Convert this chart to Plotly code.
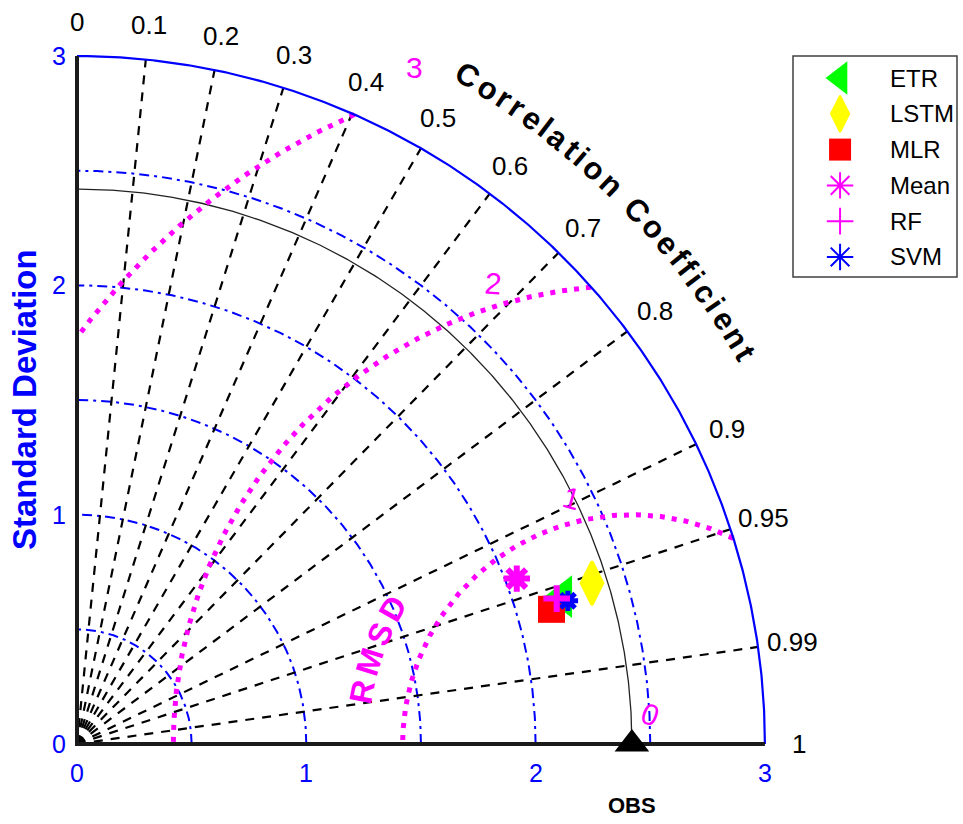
import numpy as np
import plotly.graph_objects as go

# ---------------- data ----------------
models = ["ETR", "LSTM", "MLR", "Mean", "SVM", "RF"]
std_dev = [2.214, 2.353, 2.151, 2.049, 2.230, 2.186]
corr_coef = [0.957, 0.9545, 0.962, 0.936, 0.960, 0.957]
legend_order = ["ETR", "LSTM", "MLR", "Mean", "RF", "SVM"]
obs_std = 2.42

std_max = 3.0
std_ticks = [0, 1, 2, 3]
std_circles = [0.5, 1.0, 1.5, 2.0, 2.5]
corr_lines = [0.1, 0.2, 0.3, 0.4, 0.5, 0.6, 0.7, 0.8, 0.9, 0.95, 0.99]
corr_labels = [0, 0.1, 0.2, 0.3, 0.4, 0.5, 0.6, 0.7, 0.8, 0.9, 0.95, 0.99, 1]
rmsd_levels = [1, 2, 3]
rmsd_labels = [0, 1, 2, 3]
rmsd_label_angles = [20, 15, 5, 0]

# ---------------- geometry / styles ----------------
W, H = 963, 824
PX = 229.3            # pixels per unit of standard deviation
OX, OY = 77, 744      # pixel position of the origin
FONT = "Arial, Liberation Sans, sans-serif"
BLUE, MAGENTA = "#0000FF", "#FF00FF"

marker_styles = {
    "ETR": dict(symbol="triangle-left", size=37, color="#00FF00"),
    "LSTM": dict(symbol="diamond-tall", size=31, color="#FFFF00",
                 line=dict(color="#FFFF00", width=3)),
    "MLR": dict(symbol="square", size=27, color="#FF0000"),
    "Mean": dict(symbol="asterisk-open", size=22, color=MAGENTA,
                 line=dict(color=MAGENTA, width=6)),
    "RF": dict(symbol="cross-thin-open", size=19, color=MAGENTA,
               line=dict(color=MAGENTA, width=6)),
    "SVM": dict(symbol="asterisk-open", size=17, color=BLUE,
                line=dict(color=BLUE, width=5)),
}
legend_styles = {
    "ETR": dict(symbol="triangle-left", size=29, color="#00FF00"),
    "LSTM": dict(symbol="diamond-tall", size=26, color="#FFFF00",
                 line=dict(color="#FFFF00", width=2)),
    "MLR": dict(symbol="square", size=22, color="#FF0000"),
    "Mean": dict(symbol="asterisk-open", size=22, color=MAGENTA,
                 line=dict(color=MAGENTA, width=2)),
    "RF": dict(symbol="cross-thin-open", size=19, color=MAGENTA,
               line=dict(color=MAGENTA, width=2)),
    "SVM": dict(symbol="asterisk-open", size=22, color=BLUE,
                line=dict(color=BLUE, width=2)),
}

fig = go.Figure()


def add_line(x, y, color, width, dash="solid"):
    fig.add_trace(go.Scatter(x=x, y=y, mode="lines", hoverinfo="skip",
                             showlegend=False,
                             line=dict(color=color, width=width, dash=dash)))


def quarter_arc(r, n=400):
    t = np.linspace(0, np.pi / 2, n)
    return r * np.cos(t), r * np.sin(t)


# standard-deviation circles (dash-dot)
for r in std_circles:
    x, y = quarter_arc(r)
    add_line(x, y, BLUE, 2, "10px,5px,3px,5px")

# reference standard deviation arc
x, y = quarter_arc(obs_std)
add_line(x, y, "#222222", 1.3)

# correlation rays
for c in corr_lines:
    a = np.arccos(c)
    add_line([0, std_max * np.cos(a)], [0, std_max * np.sin(a)],
             "black", 2.2, "9px,8px")

# centred RMS difference arcs around the observation point
for r in rmsd_levels:
    phi = np.linspace(0, np.pi, 3000)
    x = obs_std + r * np.cos(phi)
    y = r * np.sin(phi)
    keep = (x >= 0) & (x ** 2 + y ** 2 <= std_max ** 2)
    add_line(x[keep], y[keep], MAGENTA, 5, "5px,7px")

# outer boundary
x, y = quarter_arc(std_max)
add_line(x, y, BLUE, 2.2)

# axes frame
add_line([0, 0, std_max], [std_max, 0, 0], "#1a1a1a", 4)

# observation marker
fig.add_trace(go.Scatter(x=[obs_std], y=[0], mode="markers", showlegend=False,
                         hoverinfo="skip", cliponaxis=False,
                         marker=dict(symbol="triangle-up", size=30, color="black")))

# model points
for name, s, c in zip(models, std_dev, corr_coef):
    a = np.arccos(c)
    fig.add_trace(go.Scatter(x=[s * np.cos(a)], y=[s * np.sin(a)], mode="markers",
                             name=name, showlegend=False, cliponaxis=False,
                             marker=marker_styles[name]))

annotations = []


def text(x, y, s, size, color="black", bold=False, angle=0, xanchor="center",
         xref="x", yref="y"):
    if bold:
        s = "<b>" + s + "</b>"
    annotations.append(dict(x=x, y=y, xref=xref, yref=yref, text=s,
                            showarrow=False, textangle=angle,
                            xanchor=xanchor, yanchor="middle",
                            font=dict(family=FONT, size=size, color=color)))


# axis tick labels
for t in std_ticks:
    text(-0.08, t, str(t), 25, BLUE)
    text(t, -0.125, str(t), 25, BLUE)

# correlation labels
for c in corr_labels:
    a = np.arccos(c)
    lab = "0" if c == 0 else ("1" if c == 1 else f"{c:g}")
    text(3.15 * np.cos(a), 3.15 * np.sin(a), lab, 26)

# RMS difference labels, placed along a line leaning away from the observation
d = np.deg2rad(110)
for lv, ang in zip(rmsd_labels, rmsd_label_angles):
    text(obs_std + 0.08 + lv * np.cos(d), 0.13 + lv * np.sin(d), str(lv), 30,
         MAGENTA, angle=ang)

# Arial bold advance widths (em) for curved titles
BOLD_W = {"C": .722, "o": .611, "r": .389, "e": .556, "l": .278, "a": .556,
          "t": .333, "i": .278, "n": .611, " ": .278, "f": .333, "c": .556,
          "R": .722, "M": .833, "S": .667, "D": .722}


def curved_text(s, cx, cy, radius, deg_start, deg_end, size, color):
    w = np.array([BOLD_W[ch] * size for ch in s])
    steps = (w[:-1] + w[1:]) / 2
    arc_px = radius * PX * np.deg2rad(abs(deg_start - deg_end))
    track = (arc_px - steps.sum()) / (len(s) - 1)
    pos = np.concatenate([[0], np.cumsum(steps + track)])
    degs = deg_start + (deg_end - deg_start) * pos / arc_px
    for ch, dg in zip(s, degs):
        if ch == " ":
            continue
        rad = np.deg2rad(dg)
        text(cx + radius * np.cos(rad), cy + radius * np.sin(rad), ch, size,
             color, bold=True, angle=90 - dg)


curved_text("Correlation Coefficient", 0, 0, 3.375, 59.7, 30.3, 31, "black")
curved_text("RMSD", obs_std, 0, 1.2, 169.0, 150.5, 32, MAGENTA)

text(-0.231, 1.5, "Standard Deviation", 33, BLUE, bold=True, angle=-90)
text(obs_std, -0.27, "OBS", 22, "black", bold=True)

# legend panel drawn on its own small axes
for name in legend_order:
    fig.add_trace(go.Scatter(x=[0.287], y=[name], xaxis="x2", yaxis="y2",
                             mode="markers", showlegend=False, hoverinfo="skip",
                             cliponaxis=False, marker=legend_styles[name]))
    text(0.579, name, name, 24, xanchor="left", xref="x2", yref="y2")

fig.update_layout(
    width=W, height=H,
    margin=dict(l=0, r=0, t=0, b=0),
    paper_bgcolor="white", plot_bgcolor="white",
    showlegend=False,
    xaxis=dict(range=[-OX / PX, (W - OX) / PX], visible=False, domain=[0, 1]),
    yaxis=dict(range=[-(H - OY) / PX, OY / PX], visible=False, domain=[0, 1]),
    xaxis2=dict(domain=[793 / W, 957 / W], range=[0, 1], visible=False,
                anchor="y2"),
    yaxis2=dict(domain=[1 - 277 / H, 1 - 56 / H], type="category",
                categoryarray=legend_order, categoryorder="array",
                range=[5.56, -0.615], visible=False, anchor="x2"),
    annotations=annotations,
    shapes=[dict(type="rect", xref="paper", yref="paper",
                 x0=793 / W, x1=957 / W, y0=1 - 277 / H, y1=1 - 56 / H,
                 line=dict(color="#404040", width=1.5))],
)

fig.write_html("out.html")
